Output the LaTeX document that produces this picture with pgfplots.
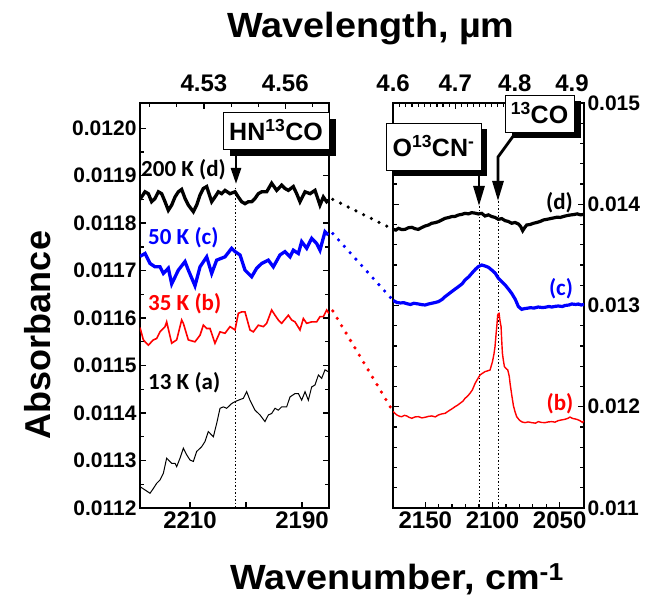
\documentclass[border=0pt]{standalone}
\usepackage{fontspec}
\setmainfont{Liberation Sans}
\newfontfamily\calibri{Carlito}
\usepackage{pgfplots}
\pgfplotsset{compat=1.18}
\usetikzlibrary{arrows.meta}
\definecolor{myblue}{RGB}{0,0,255}
\definecolor{myred}{RGB}{255,0,0}
\pgfplotsset{
  base/.style={
    scale only axis, height=405pt,
    axis line style={line width=1.3pt},
    tick style={line width=1.3pt, black},
    major tick length=6pt, minor tick length=4pt,
    tick align=inside,
    /pgf/number format/assume math mode=true,
    /pgf/number format/1000 sep={},
    xticklabel style={font=\bfseries\fontsize{24}{28}\selectfont},
    yticklabel style={font=\bfseries\fontsize{21}{25}\selectfont},
    x dir=reverse,
    scaled ticks=false,
  },
}
\tikzset{dotline/.style={line width=3.6pt, line cap=round, dash pattern=on 0pt off 8.6pt}}
\begin{document}
\begin{tikzpicture}
\useasboundingbox (0,0) rectangle (667pt,602pt);
% ---------------- left panel ----------------
\begin{axis}[base, at={(140pt,94pt)}, anchor=south west, width=189pt,
  xmin=2185.18, xmax=2218.93, ymin=0.0112, ymax=0.012053,
  xtick={2190,2200,2210}, xticklabels={2190,,2210}, xtick pos=bottom,
  ytick={0.0112,0.0113,0.0114,0.0115,0.0116,0.0117,0.0118,0.0119,0.0120},
  minor y tick num=1,
  yticklabel style={/pgf/number format/.cd,fixed,fixed zerofill,precision=4}]
\draw[line width=0.9pt, dash pattern=on 1.5pt off 2pt] (axis cs:2201.8,0.011875) -- (axis cs:2201.8,0.0112);
% (a) 13 K
\addplot[black, line width=1pt] coordinates {
(2218.93,0.011245) (2218.03,0.011238) (2217.14,0.011231) (2216.55,0.011241) (2215.95,0.011252)
(2215.36,0.011259) (2214.76,0.011273) (2214.17,0.011305) (2213.27,0.011294) (2212.68,0.011294)
(2212.38,0.011287) (2211.78,0.011305) (2211.19,0.011326) (2210.59,0.011312) (2210.00,0.011301)
(2209.40,0.011298) (2208.81,0.011319) (2207.92,0.011329) (2207.32,0.011340) (2206.73,0.011361)
(2205.83,0.011350) (2205.24,0.011378) (2204.64,0.011410) (2204.05,0.011413) (2203.45,0.011410)
(2202.56,0.011420) (2201.96,0.011424) (2201.37,0.011427) (2200.47,0.011431) (2199.88,0.011445)
(2199.29,0.011427) (2198.39,0.011406) (2197.50,0.011396) (2196.61,0.011382) (2196.01,0.011396)
(2195.42,0.011399) (2194.82,0.011410) (2194.23,0.011406) (2193.63,0.011413) (2192.74,0.011413)
(2192.14,0.011434) (2191.25,0.011441) (2190.65,0.011441) (2190.06,0.011427) (2189.46,0.011445)
(2188.87,0.011427) (2188.27,0.011455) (2187.68,0.011459) (2187.08,0.011480) (2186.49,0.011473)
(2185.89,0.011491) (2185.30,0.011487)};
% (b) 35 K
\addplot[myred, line width=1.6pt] coordinates {
(2218.93,0.011580) (2218.33,0.011554) (2217.44,0.011543) (2216.55,0.011554) (2215.95,0.011557)
(2215.36,0.011571) (2214.46,0.011582) (2214.17,0.011592) (2213.27,0.011547) (2212.38,0.011554)
(2211.49,0.011596) (2211.19,0.011589) (2210.30,0.011554) (2209.11,0.011550) (2208.21,0.011564)
(2207.62,0.011585) (2207.02,0.011578) (2206.43,0.011578) (2205.54,0.011547) (2204.64,0.011571)
(2203.75,0.011568) (2202.86,0.011582) (2201.96,0.011575) (2201.37,0.011610) (2200.77,0.011613)
(2200.18,0.011613) (2199.29,0.011575) (2198.69,0.011571) (2197.80,0.011585) (2196.90,0.011582)
(2196.31,0.011589) (2195.42,0.011617) (2194.82,0.011606) (2194.23,0.011596) (2193.63,0.011589)
(2192.44,0.011606) (2191.85,0.011596) (2191.25,0.011592) (2190.36,0.011575) (2189.76,0.011599)
(2189.17,0.011589) (2188.27,0.011592) (2187.38,0.011592) (2186.79,0.011603) (2186.19,0.011603)
(2185.60,0.011617) (2185.20,0.011610)};
% (c) 50 K
\addplot[myblue, line width=3.3pt] coordinates {
(2218.93,0.011730) (2218.03,0.011736) (2217.14,0.011715) (2216.25,0.011708) (2215.36,0.011708)
(2214.76,0.011694) (2213.87,0.011705) (2213.27,0.011672) (2212.08,0.011701) (2210.89,0.011719)
(2210.30,0.011701) (2209.11,0.011668) (2208.21,0.011708) (2207.02,0.011729) (2206.13,0.011694)
(2205.24,0.011722) (2203.75,0.011729) (2202.56,0.011747) (2201.96,0.011740) (2201.07,0.011733)
(2200.18,0.011701) (2198.99,0.011687) (2198.09,0.011705) (2197.20,0.011715) (2196.01,0.011722)
(2195.12,0.011708) (2193.93,0.011733) (2193.04,0.011740) (2192.14,0.011729) (2191.55,0.011743)
(2190.65,0.011736) (2190.06,0.011761) (2189.17,0.011747) (2188.27,0.011768) (2187.38,0.011757)
(2186.79,0.011743) (2185.89,0.011782) (2185.30,0.011775)};
% (d) 200 K
\addplot[black, line width=3.3pt] coordinates {
(2218.93,0.011850) (2218.03,0.011866) (2217.44,0.011862) (2216.85,0.011845) (2216.25,0.011852)
(2215.65,0.011866) (2215.06,0.011862) (2214.46,0.011845) (2213.87,0.011827) (2213.27,0.011838)
(2212.68,0.011855) (2212.08,0.011866) (2211.49,0.011871) (2210.89,0.011852) (2210.30,0.011838)
(2209.40,0.011824) (2208.81,0.011838) (2208.21,0.011859) (2207.62,0.011873) (2207.02,0.011877)
(2206.13,0.011845) (2205.54,0.011855) (2204.94,0.011866) (2204.35,0.011862) (2203.75,0.011869)
(2202.86,0.011862) (2201.96,0.011866) (2201.37,0.011855) (2200.77,0.011845) (2200.18,0.011841)
(2199.58,0.011845) (2198.99,0.011845) (2198.39,0.011852) (2197.80,0.011862) (2197.20,0.011866)
(2196.31,0.011866) (2195.42,0.011884) (2194.52,0.011869) (2193.63,0.011880) (2193.04,0.011873)
(2192.44,0.011869) (2191.55,0.011877) (2190.95,0.011862) (2190.36,0.011845) (2189.46,0.011866)
(2188.57,0.011862) (2187.68,0.011869) (2186.79,0.011838) (2186.19,0.011855) (2185.60,0.011845)
(2185.30,0.011848)};
\coordinate (dL) at (axis cs:2184.5,0.011850);
\coordinate (cL) at (axis cs:2184.5,0.011778);
\coordinate (bL) at (axis cs:2184.5,0.011615);
\end{axis}
\begin{axis}[base, at={(140pt,94pt)}, anchor=south west, width=189pt,
  xmin=2185.18, xmax=2218.93, ymin=0, ymax=1,
  axis x line*=top, hide y axis,
  xtick={2207.506,2192.982}, xticklabels={4.53,4.56},
  minor xtick={2217.295,2212.389,2202.643,2197.802,2188.184},
  xticklabel style={yshift=8pt}]
\end{axis}
% ---------------- right panel ----------------
\begin{axis}[base, at={(393pt,94pt)}, anchor=south west, width=191pt,
  xmin=2031.9, xmax=2174.0, ymin=0.011, ymax=0.015,
  xtick={2050,2100,2150}, minor x tick num=4, xtick pos=bottom,
  ytick={0.011,0.012,0.013,0.014,0.015}, minor y tick num=4,
  yticklabel pos=right,
  yticklabel style={/pgf/number format/.cd,fixed,fixed zerofill,precision=3}]
\draw[line width=0.9pt, dash pattern=on 1.5pt off 2pt] (axis cs:2110,0.01398) -- (axis cs:2110,0.011);
\draw[line width=0.9pt, dash pattern=on 1.5pt off 2pt] (axis cs:2095.5,0.01403) -- (axis cs:2095.5,0.011);
% (b)
\addplot[myred, line width=1.4pt] coordinates {
(2173.9,0.011952) (2171.2,0.011919) (2169.0,0.011905) (2167.5,0.011902) (2165.5,0.011915)
(2163.7,0.011909) (2162.0,0.011895) (2160.0,0.011886) (2157.5,0.011900) (2155.1,0.011902)
(2152.5,0.011890) (2150.1,0.011896) (2147.5,0.011905) (2145.2,0.011909) (2142.5,0.011900)
(2140.2,0.011919) (2137.5,0.011930) (2135.2,0.011935) (2133.0,0.011955) (2131.5,0.011968)
(2129.5,0.011985) (2127.8,0.012001) (2126.0,0.012015) (2124.1,0.012034) (2122.0,0.012055)
(2120.4,0.012083) (2118.5,0.012105) (2116.7,0.012133) (2115.0,0.012165) (2112.9,0.012231)
(2111.0,0.012275) (2109.2,0.012314) (2107.5,0.012330) (2105.5,0.012347) (2103.5,0.012355)
(2101.8,0.012363) (2100.0,0.012445) (2098.9,0.012520) (2098.1,0.012594) (2097.3,0.012720)
(2096.8,0.012791) (2096.1,0.012906) (2095.6,0.012920) (2095.1,0.012923) (2094.4,0.012850)
(2093.6,0.012791) (2093.1,0.012650) (2092.6,0.012528) (2091.8,0.012450) (2091.1,0.012396)
(2090.0,0.012380) (2088.6,0.012363) (2087.5,0.012300) (2086.9,0.012231) (2085.7,0.012120)
(2084.4,0.012010) (2083.2,0.011950) (2082.0,0.011902) (2080.7,0.011880) (2079.5,0.011863)
(2078.0,0.011850) (2075.8,0.011843) (2073.5,0.011850) (2070.8,0.011843) (2068.0,0.011838)
(2065.9,0.011853) (2063.5,0.011845) (2060.9,0.011843) (2058.5,0.011850) (2055.9,0.011853)
(2053.5,0.011848) (2051.0,0.011863) (2048.5,0.011870) (2046.0,0.011876) (2044.0,0.011885)
(2042.3,0.011898) (2040.5,0.011885) (2038.6,0.011880) (2036.5,0.011872) (2034.9,0.011862)
(2033.0,0.011845) (2031.9,0.011860)};
% (c)
\addplot[myblue, line width=3.2pt] coordinates {
(2173.9,0.013050) (2171.2,0.013030) (2168.5,0.013025) (2166.0,0.013028) (2163.7,0.013018)
(2161.0,0.013010) (2158.5,0.013022) (2155.1,0.013015) (2152.5,0.013008) (2150.1,0.013005)
(2147.5,0.013015) (2145.2,0.013022) (2142.5,0.013030) (2140.2,0.013038) (2137.5,0.013060)
(2135.2,0.013088) (2132.5,0.013115) (2130.3,0.013137) (2127.5,0.013165) (2125.3,0.013186)
(2122.5,0.013215) (2120.4,0.013252) (2117.5,0.013285) (2115.4,0.013318) (2112.5,0.013360)
(2110.5,0.013384) (2108.0,0.013400) (2105.5,0.013390) (2103.0,0.013377) (2100.5,0.013350)
(2098.0,0.013320) (2095.6,0.013269) (2093.0,0.013235) (2090.6,0.013203) (2088.0,0.013160)
(2085.7,0.013120) (2083.0,0.013060) (2080.7,0.012989) (2078.2,0.012962) (2076.0,0.012970)
(2074.5,0.012972) (2072.0,0.012978) (2069.0,0.012975) (2066.0,0.012985) (2063.0,0.012980)
(2060.9,0.012982) (2058.0,0.012990) (2055.9,0.012985) (2053.0,0.012992) (2051.0,0.012995)
(2048.0,0.012990) (2046.0,0.013000) (2043.0,0.013005) (2041.1,0.013015) (2038.0,0.013010)
(2036.1,0.013015) (2034.0,0.013005) (2031.9,0.013010)};
% (d)
\addplot[black, line width=3.2pt] coordinates {
(2173.9,0.013752) (2171.9,0.013745) (2169.9,0.013762) (2167.5,0.013750) (2165.0,0.013752)
(2162.5,0.013768) (2160.0,0.013772) (2157.5,0.013758) (2155.1,0.013752) (2152.6,0.013770)
(2150.1,0.013785) (2147.6,0.013795) (2145.2,0.013812) (2142.7,0.013818) (2140.2,0.013828)
(2137.7,0.013845) (2135.2,0.013861) (2132.8,0.013868) (2130.3,0.013878) (2127.8,0.013880)
(2125.3,0.013894) (2122.8,0.013900) (2120.4,0.013910) (2117.9,0.013905) (2115.4,0.013917)
(2112.9,0.013912) (2110.5,0.013904) (2108.0,0.013910) (2105.5,0.013884) (2103.0,0.013895)
(2100.5,0.013878) (2098.1,0.013870) (2095.6,0.013851) (2093.1,0.013858) (2090.6,0.013838)
(2088.2,0.013830) (2085.7,0.013812) (2083.2,0.013820) (2080.7,0.013805) (2079.0,0.013780)
(2077.5,0.013739) (2076.0,0.013770) (2074.5,0.013795) (2072.0,0.013800) (2069.5,0.013812)
(2067.0,0.013820) (2064.5,0.013830) (2062.0,0.013845) (2059.5,0.013851) (2057.0,0.013858)
(2054.5,0.013865) (2052.0,0.013872) (2049.5,0.013870) (2047.0,0.013880) (2044.5,0.013888)
(2042.0,0.013894) (2039.5,0.013898) (2037.0,0.013905) (2034.5,0.013895) (2031.9,0.013900)};
\coordinate (dR) at (axis cs:2173.9,0.013752);
\coordinate (cR) at (axis cs:2173.9,0.013050);
\coordinate (bR) at (axis cs:2173.9,0.011952);
\end{axis}
\begin{axis}[base, at={(393pt,94pt)}, anchor=south west, width=191pt,
  xmin=2031.9, xmax=2174.0, ymin=0, ymax=1,
  axis x line*=top, hide y axis,
  xtick={2173.913,2127.660,2083.333,2040.816}, xticklabels={4.6,4.7,4.8,4.9},
  minor xtick={2169.197,2164.502,2159.827,2155.172,2150.538,2145.923,2141.328,2136.752,2132.196,
    2123.142,2118.644,2114.165,2109.705,2105.263,2100.840,2096.436,2092.050,2087.683,
    2079.002,2074.689,2070.393,2066.116,2061.856,2057.613,2053.388,2049.180,2044.990,
    2036.660,2032.520},
  xticklabel style={yshift=8pt}]
\end{axis}
% connectors
\draw[dotline, black] (dL) -- (dR);
\draw[dotline, myblue] (cL) -- (cR);
\draw[dotline, myred] (bL) -- (bR);
% curve labels
\begin{scope}[every node/.style={inner sep=0pt, font=\calibri\bfseries\fontsize{23}{27}\selectfont}]
\node[anchor=west, black] at (141pt,432pt) {200 K (d)};
\node[anchor=west, myblue] at (148pt,364pt) {50 K (c)};
\node[anchor=west, myred] at (148pt,298pt) {35 K (b)};
\node[anchor=west, black] at (148pt,219pt) {13 K (a)};
\node[black] at (559.5pt,399.5pt) {(d)};
\node[myblue] at (561pt,313pt) {(c)};
\node[myred] at (560pt,198pt) {(b)};
\end{scope}
% annotation boxes
\fill[black] (230pt,446pt) rectangle (336pt,483pt);
\filldraw[fill=white, draw=black, line width=0.8pt] (223pt,453pt) rectangle (329pt,490pt);
\node[inner sep=0pt, font=\bfseries\fontsize{25}{30}\selectfont] at (276pt,471.5pt) {HN\textsuperscript{13}CO};
\draw[line width=2.6pt, -{Triangle[length=16pt,width=10pt]}] (236pt,446pt) -- (236pt,418pt);
\fill[black] (392pt,426pt) rectangle (487pt,473pt);
\filldraw[fill=white, draw=black, line width=0.8pt] (386pt,432pt) rectangle (481pt,479pt);
\node[inner sep=0pt, font=\bfseries\fontsize{25}{30}\selectfont] at (433.5pt,455.5pt) {O\textsuperscript{13}CN\textsuperscript{-}};
\draw[line width=2.8pt, -{Triangle[length=20pt,width=11pt]}] (479pt,426pt) -- (479pt,396pt);
\draw[line width=2.8pt, -{Triangle[length=20pt,width=11pt]}] (514pt,467pt) -- (498pt,445pt) -- (498pt,401pt);
\fill[black] (512pt,464pt) rectangle (581pt,501pt);
\filldraw[fill=white, draw=black, line width=0.8pt] (505pt,470pt) rectangle (574pt,507pt);
\node[inner sep=0pt, font=\bfseries\fontsize{25}{30}\selectfont] at (539.5pt,488.5pt) {\textsuperscript{13}CO};
% titles
\node[anchor=base, inner sep=0pt, xscale=1.08, font=\bfseries\fontsize{35}{40}\selectfont] at (371pt,564pt) {Wavelength, µm};
\node[anchor=base, inner sep=0pt, xscale=1.08, font=\bfseries\fontsize{35}{40}\selectfont] at (397pt,12pt) {Wavenumber, cm\textsuperscript{-1}};
\node[rotate=90, inner sep=0pt, font=\bfseries\fontsize{36}{40}\selectfont] at (38pt,267pt) {Absorbance};
\end{tikzpicture}
\end{document}
